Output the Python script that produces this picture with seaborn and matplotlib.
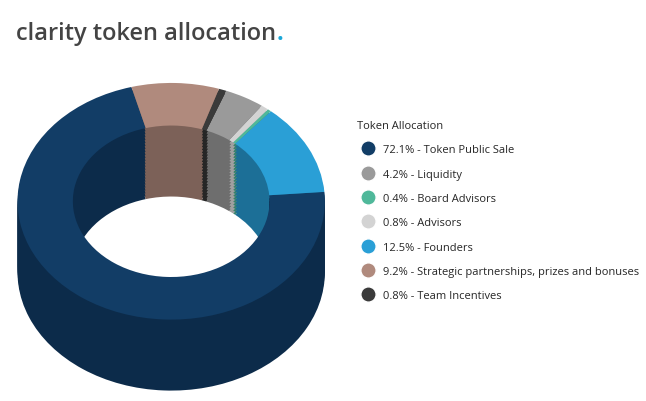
import matplotlib
matplotlib.use("Agg")
import matplotlib.pyplot as plt
import seaborn as sns
from matplotlib.lines import Line2D

sns.set_theme(style="white")
plt.rcParams['font.family'] = ['Open Sans', 'DejaVu Sans']

labels = ["Token Public Sale", "Liquidity", "Board Advisors", "Advisors", "Founders",
          "Strategic partnerships, prizes and bonuses", "Team Incentives"]
values = [72.1, 4.2, 0.4, 0.8, 12.5, 9.2, 0.8]
colors = ["#123d66", "#9a9a9a", "#4fb89a", "#d3d3d3", "#2a9fd6", "#b08a7d", "#3a3a3a"]
side_colors = ["#0c2b4a", "#6e6e6e", "#37826c", "#a0a0a0", "#1c6f97", "#7c6158", "#262626"]
draw_order = [0, 4, 2, 3, 1, 6, 5]

fig = plt.figure(figsize=(6.46, 4.02), dpi=100)
t = fig.text(0.025, 0.90, "clarity token allocation", fontsize=17, fontweight="semibold", color="#444444")
fig.canvas.draw()
bb = t.get_window_extent()
fig.text(bb.x1 / fig.bbox.width, 0.90, ".", fontsize=17, fontweight="bold", color="#1aa7d8")

ax = fig.add_axes([0.02, 0.02, 0.49, 0.78])
vals = [values[i] for i in draw_order]
for k in range(24, 0, -1):
    ax.pie(vals, colors=[side_colors[i] for i in draw_order], startangle=105, counterclock=True,
           radius=1.0, center=(0, -0.025 * k), wedgeprops=dict(width=0.36, linewidth=0))
ax.pie(vals, colors=[colors[i] for i in draw_order], startangle=105, counterclock=True,
       radius=1.0, center=(0, 0), wedgeprops=dict(width=0.36, linewidth=0))
ax.set_aspect('auto')
ax.set_xlim(-1.03, 1.03)
ax.set_ylim(-1.62, 1.03)

handles = [Line2D([0], [0], marker='o', color='w', markerfacecolor=c, markersize=11)
           for c in colors]
leg_labels = [f"{v}% - {l}" for v, l in zip(values, labels)]
leg = fig.legend(handles, leg_labels, loc="upper left", bbox_to_anchor=(0.545, 0.71),
                 frameon=False, fontsize=8, title="Token Allocation", title_fontsize=8,
                 labelspacing=1.2, handletextpad=0.4, borderaxespad=0)
leg._legend_box.align = "left"
fig.savefig("out.png", dpi=100)
